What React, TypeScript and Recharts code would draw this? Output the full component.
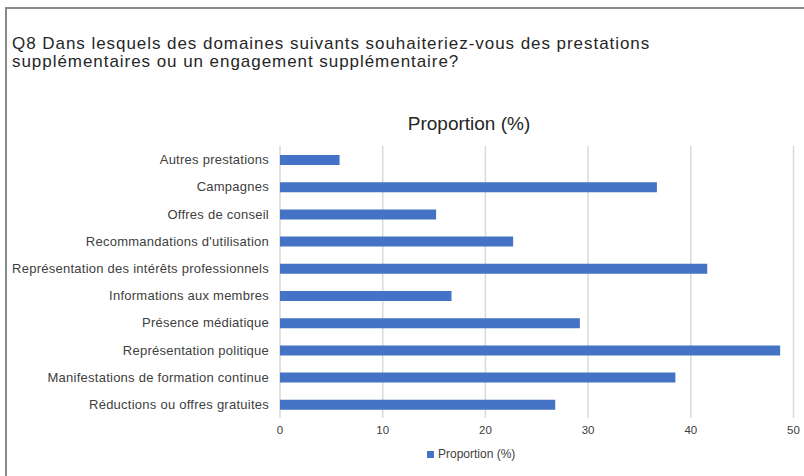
import React from "react";
import { BarChart, Bar, XAxis, YAxis, CartesianGrid, Legend } from "recharts";

const titleLines = [
  "Q8 Dans lesquels des domaines suivants souhaiteriez-vous des prestations",
  "supplémentaires ou un engagement supplémentaire?",
];
const chartTitle = "Proportion (%)";
const seriesName = "Proportion (%)";

const categories = [
  "Autres prestations",
  "Campagnes",
  "Offres de conseil",
  "Recommandations d'utilisation",
  "Représentation des intérêts professionnels",
  "Informations aux membres",
  "Présence médiatique",
  "Représentation politique",
  "Manifestations de formation continue",
  "Réductions ou offres gratuites",
];
const values = [5.8, 36.7, 15.2, 22.7, 41.6, 16.7, 29.2, 48.7, 38.5, 26.8];
const xTicks = [0, 10, 20, 30, 40, 50];

const data = categories.map((name, i) => ({ name, value: values[i] }));

const FONT = "'Liberation Sans', Arial, Helvetica, sans-serif";

export default function App() {
  return (
    <div
      style={{
        position: "absolute",
        left: 0,
        top: 0,
        width: 804,
        height: 476,
        background: "#fff",
        fontFamily: FONT,
        overflow: "hidden",
      }}
    >
      <div
        style={{
          position: "absolute",
          left: 5,
          top: 7,
          width: 810,
          height: 480,
          borderLeft: "2px solid #8a8a8a",
          borderTop: "2px solid #8a8a8a",
          boxSizing: "border-box",
        }}
      />
      <div
        style={{
          position: "absolute",
          left: 12,
          top: 35,
          fontSize: 17,
          lineHeight: "18px",
          letterSpacing: 0.95,
          color: "#262626",
          whiteSpace: "nowrap",
        }}
      >
        {titleLines.map((l, i) => (
          <div key={i}>{l}</div>
        ))}
      </div>
      <div
        style={{
          position: "absolute",
          left: 369,
          top: 113.5,
          width: 200,
          textAlign: "center",
          fontSize: 19,
          lineHeight: "19px",
          color: "#262626",
        }}
      >
        {chartTitle}
      </div>
      <div style={{ position: "absolute", left: 0, top: 0 }}>
        <BarChart
          width={804}
          height={476}
          data={data}
          layout="vertical"
          margin={{ top: 146, right: 10.5, bottom: 28, left: 0 }}
        >
          <CartesianGrid horizontal={false} stroke="#d9d9d9" strokeWidth={1.5} />
          <XAxis
            type="number"
            domain={[0, 50]}
            ticks={xTicks}
            axisLine={false}
            tickLine={false}
            tickSize={0}
            tickMargin={8}
            height={30}
            tick={{ fill: "#404040", fontSize: 11.5, fontFamily: FONT }}
          />
          <YAxis
            type="category"
            dataKey="name"
            width={280}
            interval={0}
            axisLine={false}
            tickLine={false}
            tickSize={0}
            tickMargin={11}
            tick={{ fill: "#404040", fontSize: 13, fontFamily: FONT, letterSpacing: 0.25 }}
          />
          <Legend
            layout="horizontal"
            verticalAlign="middle"
            align="center"
            iconType="square"
            iconSize={7}
            wrapperStyle={{ left: 427, top: 447, width: "auto", fontSize: 12, fontFamily: FONT }}
            formatter={(v) => <span style={{ color: "#404040" }}>{v}</span>}
          />
          <Bar
            dataKey="value"
            name={seriesName}
            fill="#4472C4"
            barSize={10}
            isAnimationActive={false}
          />
        </BarChart>
      </div>
    </div>
  );
}
